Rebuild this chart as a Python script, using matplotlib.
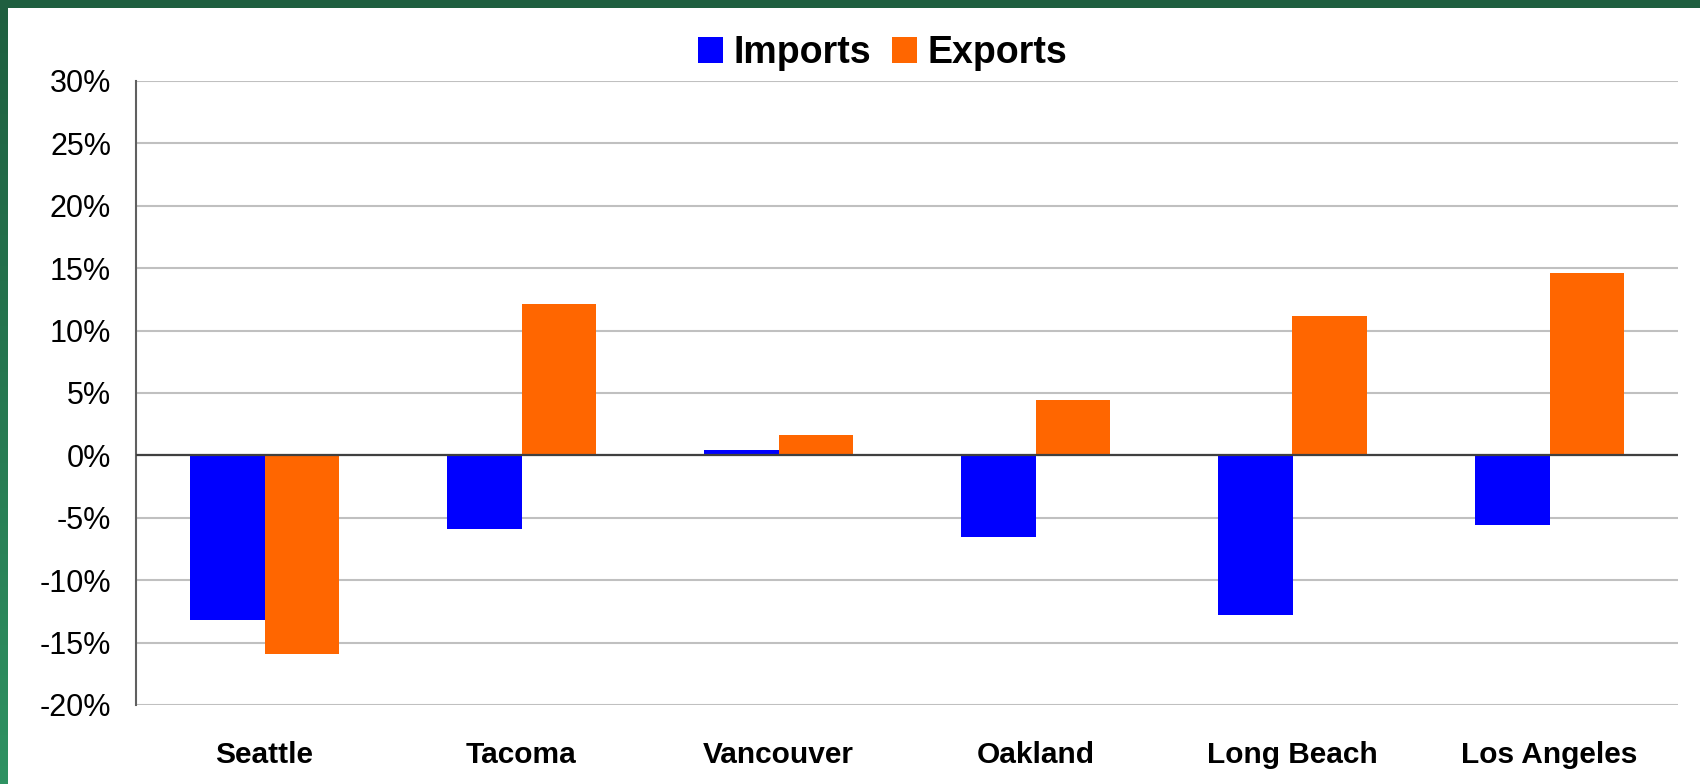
import matplotlib
matplotlib.use("Agg")
import matplotlib.pyplot as plt
from matplotlib.patches import Rectangle
from matplotlib.ticker import FuncFormatter
import numpy as np

ports = ["Seattle", "Tacoma", "Vancouver", "Oakland", "Long Beach", "Los Angeles"]
imports = [-13.2, -5.9, 0.4, -6.5, -12.8, -5.6]
exports = [-15.9, 12.1, 1.6, 4.4, 11.2, 14.6]
yticks = [-20, -15, -10, -5, 0, 5, 10, 15, 20, 25, 30]

blue = "#0000FF"
orange = "#FF6600"

plt.rcParams['font.family'] = ['Liberation Sans', 'DejaVu Sans']

fig = plt.figure(figsize=(17, 7.84), dpi=100)
fig.patch.set_facecolor("white")

# green frame: top band and left band with a gradient
fig.patches.append(Rectangle((0, 1 - 8 / 784), 1, 8 / 784, transform=fig.transFigure,
                             facecolor="#1f5f40", edgecolor="none", zorder=0))
band = fig.add_axes([0, 0, 8 / 1700, 1 - 8 / 784])
grad = np.linspace(0, 1, 256).reshape(-1, 1)
cmap = matplotlib.colors.LinearSegmentedColormap.from_list("g", ["#1f5f40", "#2e9262"])
band.imshow(grad, aspect="auto", cmap=cmap, extent=[0, 1, 0, 1], origin="upper")
band.axis("off")

ax = fig.add_axes([136 / 1700, 1 - 705 / 784, (1678 - 136) / 1700, (705 - 81) / 784])

x = np.arange(len(ports))
w = 0.29
ax.bar(x - w / 2, imports, w, color=blue, label="Imports", zorder=3)
ax.bar(x + w / 2, exports, w, color=orange, label="Exports", zorder=3)

ax.set_xlim(-0.5, len(ports) - 0.5)
ax.set_ylim(-20, 30)
ax.set_yticks(yticks)
ax.yaxis.set_major_formatter(FuncFormatter(lambda v, p: "%d%%" % v))
ax.grid(axis="y", color="#c0c0c0", linewidth=1.5, zorder=0)
ax.axhline(0, color="#404040", linewidth=1.6, zorder=4)

ax.set_xticks(x)
ax.set_xticklabels(ports, fontsize=21.5, fontweight="bold")
ax.tick_params(axis="x", length=0, pad=26)
ax.tick_params(axis="y", length=0, pad=18, labelsize=22)

for s in ["top", "right", "bottom"]:
    ax.spines[s].set_visible(False)
ax.spines["left"].set_color("#606060")
ax.spines["left"].set_linewidth(1.5)

fig.legend(loc="center", bbox_to_anchor=(0.519, 0.932), ncol=2, frameon=False,
           prop={"size": 27, "weight": "bold"}, handlelength=0.68, handleheight=0.68,
           handletextpad=0.27, columnspacing=0.55, borderaxespad=0)

fig.savefig("out.png", dpi=100)
